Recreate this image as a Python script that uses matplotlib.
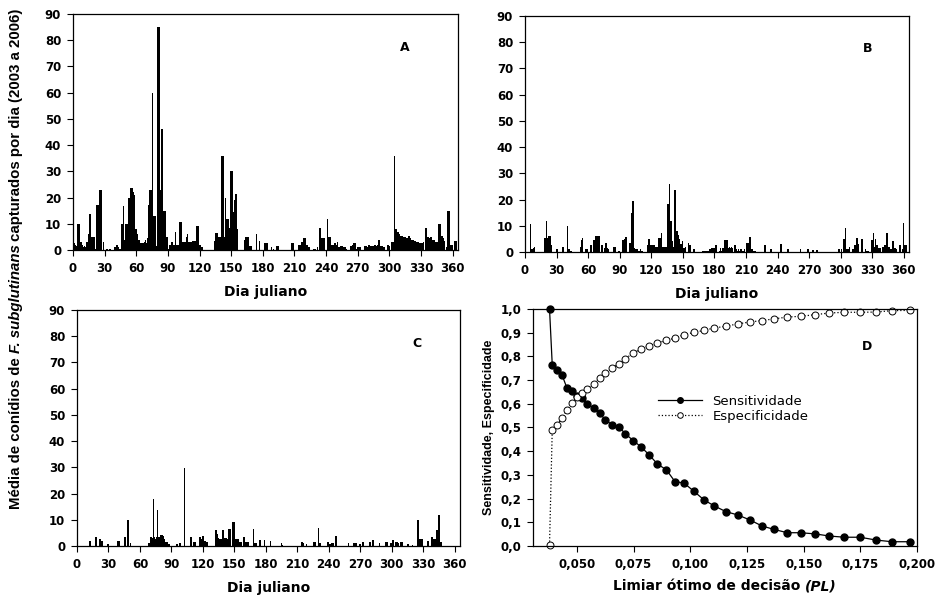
import numpy as np
import matplotlib
matplotlib.use('Agg')
import matplotlib.pyplot as plt
from matplotlib.ticker import FuncFormatter

# dia juliano 1..365
dias = np.arange(1, 366)

# media de conidios por dia, painel A
conidios_a = [
    2.5, 2, 1.5, 10, 10, 10, 3, 3, 2, 1,
    1.5, 1, 3, 3, 6, 13.6, 13.6, 5, 5, 5,
    0.5, 17, 17, 17, 22.7, 22.7, 22.7, 0, 3, 0,
    0, 0.5, 0.3, 0, 0.5, 0.3, 0, 0, 1, 1,
    2, 2, 1, 0.5, 0.3, 10, 10, 16.8, 4, 10,
    10, 10, 20, 20, 23.5, 23.5, 22, 21, 8, 8,
    6, 4, 4, 2.5, 2.5, 2.5, 2.5, 3, 4, 2.5,
    4.5, 17, 23, 23, 60, 13, 13, 13, 1.5, 85,
    85, 85, 23, 46, 46, 14.7, 14.7, 14.7, 5, 5,
    0.5, 2, 3, 3, 2, 2, 7, 2, 2, 2,
    10.5, 10.5, 10.5, 3, 3, 3, 3, 5, 6, 3,
    3, 3, 3.5, 3.5, 3.5, 3.5, 9.3, 9.3, 9.3, 2,
    2, 1, 1, 0, 0, 0, 0, 0, 0, 0,
    0, 0, 0, 3.5, 6.5, 6.5, 6.5, 5, 5, 5,
    36, 36, 36, 5, 20, 12, 12, 8.5, 30, 30,
    30, 14.5, 19, 21.5, 21.5, 8, 0, 0, 0, 0,
    0, 0, 4, 5, 5, 5, 1.5, 1.5, 1.5, 0,
    0, 0, 0, 6, 0, 0, 3.5, 0, 0, 0,
    0, 2.5, 2.5, 2.5, 0, 0, 0, 1, 0, 0.5,
    0, 0, 1.5, 1.5, 1.5, 0, 0, 0, 0, 0,
    0, 0, 0, 0, 0, 0, 2.7, 2.7, 2.7, 0,
    0, 0, 0, 2, 2, 2, 3, 3, 4.5, 4.5,
    2, 2, 1, 1, 0, 0, 0, 0.5, 0.5, 0.5,
    0, 1, 0, 8.5, 8.5, 4.5, 4.5, 4.5, 0, 0,
    12, 5, 5, 5, 2, 2, 2, 2.5, 2.5, 2,
    3, 1, 1, 1.5, 1.5, 1.5, 1, 1, 0.5, 0,
    0, 0, 1.5, 1.5, 2, 2.5, 2.5, 2.5, 0.5, 1,
    1, 1, 1, 0, 0, 1.5, 1.5, 1.5, 1, 2,
    2, 1.5, 1.5, 1.5, 1.5, 2, 2, 1.5, 2, 4,
    4, 1.5, 1.5, 1, 1, 0, 0, 2, 2, 1.5,
    0, 3, 3, 3, 36, 8, 8, 7, 7, 6,
    5.5, 5.5, 5, 5, 5, 4.5, 4.5, 5.5, 5.5, 4.5,
    4, 4, 4, 3.5, 3.5, 3, 3, 3, 2.5, 2.5,
    2.5, 3, 0, 8.5, 8.5, 5, 5, 4.5, 5, 5,
    4, 4, 4, 3, 3, 3, 10, 10, 5.5, 5.5,
    4.5, 3.5, 0, 1, 14.7, 14.7, 14.7, 2, 2, 2,
    0, 3.5, 3.5, 3.5, 0,
]

# painel B
conidios_b = [
    0, 0, 0, 0, 10.8, 1, 1, 1.5, 2, 0,
    0, 0, 0, 0, 0, 0, 0, 0, 5.5, 12,
    5.5, 6, 6, 6, 2.5, 0, 0, 0, 0, 1,
    1, 0, 0, 0, 0, 2, 2, 0, 0, 10,
    1, 1, 0.5, 0.5, 0, 0, 0, 0, 0, 0,
    0, 0, 2, 4.5, 5.5, 0, 0, 1, 1, 0,
    0, 2.5, 2.5, 0, 4.5, 4.5, 6, 6, 6, 6,
    6, 0, 2.5, 2.5, 0, 1.5, 3.5, 1.5, 1, 0,
    0, 0, 0, 2, 2, 2, 0, 0, 0.5, 0.5,
    0, 0, 4.5, 4.5, 5, 5.7, 0, 0, 3.5, 3.5,
    14.8, 19.6, 19.6, 1.5, 1, 1, 1, 0.5, 0.5, 1,
    0.5, 0.5, 0, 0, 0, 2.5, 5, 5, 2.5, 2.5,
    2.5, 2.5, 2.5, 2, 2, 2, 5.5, 5.5, 5.5, 7.3,
    2, 2, 2, 2, 18.4, 18.4, 26, 12, 12, 4,
    2, 23.8, 23.8, 8, 8, 6.5, 5, 3, 3, 4,
    1.5, 1.5, 2, 0, 3.5, 2.5, 2.5, 0, 0, 1,
    1, 0, 0, 0, 0, 0, 0, 0, 0.3, 0.5,
    0.3, 0.5, 0.5, 0.5, 1, 1, 1.5, 1.5, 1.5, 1.5,
    2.5, 2.5, 0, 0, 0.5, 1.5, 0.5, 1.5, 1.5, 4.5,
    4.5, 4.5, 1.5, 2, 1.5, 2, 1.5, 0, 2.5, 2.5,
    1, 0.5, 1, 0.5, 1, 1, 0.5, 0.5, 1, 0,
    3.5, 3.5, 5.8, 5.8, 1, 1, 0.5, 0.5, 0.5, 0,
    0, 0, 0, 0, 0, 0, 0, 2.5, 2.5, 0,
    0, 0, 1, 1, 0, 0, 0, 0, 0, 0,
    0, 0, 3, 3, 0, 0, 0, 0, 0, 1,
    0, 0, 0, 0, 0, 0, 0, 0, 0, 0,
    0, 1, 0, 0, 0, 0, 0, 0, 1, 0,
    0, 0, 0.8, 0.8, 0, 0, 0.8, 0.8, 0, 0,
    0, 0, 0, 0, 0, 0, 0, 0, 0, 0,
    0, 0, 0, 0, 0, 0, 0, 1, 1, 0,
    1, 0, 5, 5, 9, 1, 1, 2, 0, 0,
    1, 1, 2.5, 2.5, 5.5, 5.5, 3, 0, 0, 5,
    5, 0, 0, 1, 0.5, 0.5, 0, 0, 4.5, 4.5,
    7.3, 2, 5, 2.5, 2.5, 1.5, 1.5, 1.5, 0, 2,
    2, 2.5, 2.5, 7.2, 7.2, 2, 1, 1, 4, 4,
    1.5, 1.5, 1, 0, 0, 2.5, 2.5, 0, 1, 11,
    2.5, 2.5, 2.5, 0, 0,
]

# painel C
conidios_c = [
    0, 0, 0, 0, 0, 0, 0, 0, 0, 0,
    0, 1.8, 1.8, 0, 0, 0, 0, 3.3, 3.3, 0,
    2.5, 2.5, 1.8, 1.8, 0, 0, 0, 0, 0.6, 0.6,
    0, 0, 0, 0, 0, 0, 0, 0, 1.8, 1.8,
    0, 0, 0, 0, 3.3, 3.3, 0, 10, 10, 0,
    1, 0, 0, 0, 0, 0, 0, 0, 0, 0,
    0, 0, 0, 0, 0, 0, 0, 1, 1, 3.5,
    3.5, 3, 18, 3.5, 2.5, 3.5, 13.6, 3.5, 3.5, 4.2,
    4.2, 4, 2.5, 1.5, 1.5, 1.5, 0.8, 0.8, 0, 0,
    0, 0, 0, 0, 0.8, 0.8, 0, 1, 1, 0,
    0, 29.6, 0, 0, 0, 0, 0, 3.3, 3.3, 0,
    1.5, 1.5, 1.5, 0, 0, 0, 3.3, 3.3, 2.5, 4,
    4, 2, 1.5, 1.5, 0, 0, 0, 0, 0, 0,
    0, 6, 6, 4.6, 3, 2.5, 2.5, 2.5, 6, 6,
    3, 3, 2.5, 6.5, 6.5, 6.5, 0, 9, 9, 9,
    2.5, 2.5, 2.5, 2.5, 1.5, 1.5, 1.5, 0, 3.3, 3.3,
    1.5, 1.5, 1.5, 0, 0, 0, 0, 6.3, 1, 1,
    1, 0, 0, 2.3, 2.3, 0, 0, 0, 2.3, 0,
    0, 0, 0, 1.8, 0, 0, 0, 0, 0, 0,
    0, 0, 0, 0, 1, 0.5, 0, 0, 0, 0,
    0, 0, 0, 0, 0, 0, 0, 0, 0, 0,
    0, 0, 0, 1.5, 1.5, 1, 0, 0, 0.6, 0,
    0, 0, 0, 0, 1.5, 1.5, 1.5, 0, 0, 6.7,
    1, 1, 0, 0, 0, 0, 0, 0, 1.5, 1.5,
    0.8, 0.8, 1, 1, 0, 4, 4, 0, 0, 0,
    0, 0, 0, 0, 0, 0, 0, 0, 1, 0,
    0, 0, 0, 1, 1, 1, 0, 0, 0.8, 0.8,
    0, 1.5, 1.5, 0, 0, 0, 0, 0, 1.5, 1.5,
    0, 2.2, 2.2, 0, 0, 0, 0, 1, 0, 0,
    0, 0, 0, 1.5, 1.5, 1.5, 0, 0, 1, 1,
    2.2, 2.2, 0, 1.5, 1.5, 1, 0, 1.5, 1.5, 1.5,
    0, 0, 0, 0, 0.6, 0.6, 0, 0, 0, 0.5,
    0, 0, 0, 0, 10, 2.8, 2.8, 2.8, 2.8, 0,
    0, 0, 0, 1.8, 1.8, 0, 0, 3.3, 3.3, 2.8,
    2.8, 2.8, 6, 6, 12, 1.5, 1.5, 0, 0, 0,
    0, 0, 0, 0, 0, 0, 0, 0, 0, 0,
    0, 0, 0, 0, 0,
]

# painel D
limiar = [0.0379, 0.0391, 0.0412, 0.0434, 0.0456, 0.0478, 0.0500, 0.0522,
          0.0544, 0.0574, 0.0600, 0.0625, 0.0656, 0.0684, 0.0714, 0.0748,
          0.0784, 0.0818, 0.0855, 0.0895, 0.0932, 0.0973, 0.1017, 0.1061,
          0.1106, 0.1157, 0.1209, 0.1263, 0.1315, 0.1369, 0.1428, 0.1487,
          0.1551, 0.1614, 0.1680, 0.1749, 0.1820, 0.1889, 0.1968]
sensitividade = [1.0, 0.765, 0.744, 0.722, 0.666, 0.652, 0.634, 0.624,
                 0.600, 0.582, 0.561, 0.532, 0.511, 0.504, 0.473, 0.445,
                 0.417, 0.385, 0.346, 0.321, 0.272, 0.265, 0.230, 0.194,
                 0.169, 0.145, 0.131, 0.110, 0.085, 0.070, 0.056, 0.056,
                 0.051, 0.042, 0.037, 0.037, 0.025, 0.018, 0.018]
especificidade = [0.004, 0.490, 0.511, 0.539, 0.572, 0.603, 0.628, 0.645,
                  0.662, 0.685, 0.708, 0.730, 0.751, 0.769, 0.790, 0.815,
                  0.831, 0.845, 0.856, 0.868, 0.877, 0.892, 0.901, 0.910,
                  0.920, 0.927, 0.937, 0.945, 0.951, 0.958, 0.966, 0.969,
                  0.976, 0.983, 0.986, 0.986, 0.987, 0.993, 0.994]

dia_ticks = list(range(0, 361, 30))
conidio_ticks = list(range(0, 91, 10))

TICK_FS = 8.5
LAB_FS = 10

fig = plt.figure(figsize=(9.38, 5.96), dpi=100)
ax_a = fig.add_axes([0.0778, 0.5805, 0.4104, 0.396])
ax_b = fig.add_axes([0.5597, 0.5772, 0.4094, 0.396])
ax_c = fig.add_axes([0.0821, 0.0839, 0.4083, 0.396])
ax_d = fig.add_axes([0.5682, 0.0839, 0.4094, 0.3977])


def style_ticks(ax):
    ax.tick_params(direction='out', length=4, width=0.8, labelsize=TICK_FS, pad=4.5)
    for lab in ax.get_xticklabels() + ax.get_yticklabels():
        lab.set_fontweight('bold')
    for s in ax.spines.values():
        s.set_linewidth(0.9)


for ax, vals, letra, pos in [(ax_a, conidios_a, 'A', (0.862, 0.86)),
                             (ax_b, conidios_b, 'B', (0.893, 0.864)),
                             (ax_c, conidios_c, 'C', (0.888, 0.856))]:
    ax.bar(dias, vals, width=1.0, color='black', linewidth=0)
    ax.set_xlim(0, 365)
    ax.set_ylim(0, 90)
    ax.set_xticks(dia_ticks)
    ax.set_yticks(conidio_ticks)
    ax.set_xlabel('Dia juliano', fontsize=LAB_FS, fontweight='bold', labelpad=7)
    ax.text(pos[0], pos[1], letra, transform=ax.transAxes, fontsize=9,
            fontweight='bold', ha='center', va='center')
    style_ticks(ax)

# painel D
ax_d.plot(limiar, sensitividade, '-', color='black', lw=0.9, marker='o',
          ms=5, mfc='black', mec='black', clip_on=False, label='Sensitividade')
ax_d.plot(limiar, especificidade, ':', color='black', lw=0.9, marker='o',
          ms=5, mfc='white', mec='black', mew=0.7, clip_on=False,
          label='Especificidade')
ax_d.set_xlim(0.0306, 0.200)
ax_d.set_ylim(0, 1.0)
ax_d.set_xticks([0.050, 0.075, 0.100, 0.125, 0.150, 0.175, 0.200])
ax_d.set_yticks(np.arange(0, 1.01, 0.1))
ax_d.xaxis.set_major_formatter(FuncFormatter(lambda v, p: f'{v:.3f}'.replace('.', ',')))
ax_d.yaxis.set_major_formatter(FuncFormatter(lambda v, p: f'{v:.1f}'.replace('.', ',')))
ax_d.text(0.87, 0.84, 'D', transform=ax_d.transAxes, fontsize=9,
          fontweight='bold', ha='center', va='center')
style_ticks(ax_d)
ax_d.legend(loc='center left', bbox_to_anchor=(0.326, 0.58), frameon=False,
            fontsize=9.5, handlelength=3.3, handletextpad=0.8, borderpad=0,
            borderaxespad=0, labelspacing=0.15, markerscale=0.8)
ax_d.set_ylabel('Sensitividade, Especificidade', fontsize=9,
                fontfamily='Liberation Sans', fontweight='bold', labelpad=4)

fig.canvas.draw()
renderer = fig.canvas.get_renderer()


def put_pieces(parts, x, y, rotation=0, gap=3, **kw):
    # escreve partes de um texto em sequencia, centradas em (x, y) da figura
    texts = [fig.text(0, 0, s, rotation=rotation, fontstyle=st, **kw) for s, st in parts]
    sizes = []
    for t in texts:
        bb = t.get_window_extent(renderer)
        sizes.append(bb.height if rotation == 90 else bb.width)
    total = sum(sizes) + gap * (len(sizes) - 1)
    W, H = fig.bbox.width, fig.bbox.height
    if rotation == 90:
        cur = y * H - total / 2
        for t, s in zip(texts, sizes):
            t.set_position((x, cur / H))
            t.set_ha('center')
            t.set_va('bottom')
            cur += s + gap
    else:
        cur = x * W - total / 2
        for t, s in zip(texts, sizes):
            t.set_position((cur / W, y))
            t.set_ha('left')
            t.set_va('center')
            cur += s + gap


put_pieces([('Média de conídios de', 'normal'),
            ('F. subglutinans', 'italic'),
            ('capturados por dia (2003 a 2006)', 'normal')],
           0.017, 0.566, rotation=90, gap=4, fontsize=10.8,
           fontfamily='Liberation Sans', fontweight='bold')

# rotulo x do painel D com (PL) em italico
bb_d = ax_d.get_position()
put_pieces([('Limiar ótimo de decisão', 'normal'), ('(PL)', 'italic')],
           bb_d.x0 + bb_d.width / 2, 1 - 586 / 596, gap=4,
           fontsize=LAB_FS, fontweight='bold')

fig.savefig('out.png', dpi=100)
